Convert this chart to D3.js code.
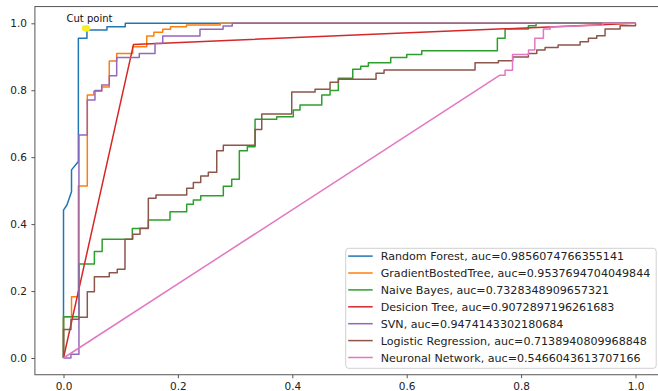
<!DOCTYPE html>
<html>
<head>
<meta charset="utf-8">
<script src="https://cdnjs.cloudflare.com/ajax/libs/d3/7.8.5/d3.min.js"></script>
<style>
  body { margin: 0; background: #fff; }
  svg { display: block; }
  text { font-family: "DejaVu Sans", sans-serif; }
</style>
</head>
<body>
<svg id="chart"></svg>
<script>
// roc points, [fpr, tpr]
var rfPoints = [[0,0],[0,0.442],[0.006,0.457],[0.014,0.497],[0.014,0.562],[0.026,0.587],[0.026,0.955],
  [0.041,0.955],[0.041,0.980],[0.076,0.980],[0.076,0.990],[0.108,0.990],[0.108,1],[1,1]];

var gbtPoints = [[0,0],[0,0.123],[0.014,0.123],[0.014,0.183],[0.026,0.183],[0.026,0.514],[0.0416,0.514],
  [0.0416,0.786],[0.053,0.786],[0.053,0.797],[0.067,0.797],[0.067,0.810],[0.080,0.810],[0.080,0.887],
  [0.093,0.887],[0.093,0.910],[0.121,0.910],[0.121,0.930],[0.1455,0.930],[0.1455,0.962],[0.158,0.962],
  [0.158,0.973],[0.1735,0.973],[0.1735,0.982],[0.187,0.982],[0.187,0.990],[0.215,0.990],[0.215,0.995],
  [0.274,0.995],[0.274,1],[1,1]];

var nbPoints = [[0,0],[0,0.123],[0.027,0.123],[0.027,0.281],[0.054,0.281],[0.054,0.318],[0.0676,0.318],
  [0.0676,0.355],[0.1203,0.355],[0.1203,0.387],[0.1483,0.387],[0.1483,0.412],[0.1862,0.412],[0.1862,0.437],
  [0.2154,0.437],[0.2154,0.459],[0.227,0.459],[0.227,0.472],[0.2399,0.472],[0.2399,0.485],[0.2794,0.485],
  [0.2794,0.513],[0.2941,0.513],[0.2941,0.534],[0.3074,0.534],[0.3074,0.619],[0.3214,0.619],[0.3214,0.631],
  [0.3349,0.631],[0.3349,0.713],[0.3728,0.713],[0.3728,0.721],[0.4018,0.721],[0.4018,0.741],[0.4135,0.741],
  [0.4135,0.756],[0.4515,0.756],[0.4515,0.786],[0.466,0.786],[0.466,0.799],[0.4805,0.799],[0.4805,0.836],
  [0.5057,0.836],[0.5057,0.863],[0.5197,0.863],[0.5197,0.872],[0.533,0.872],[0.533,0.882],[0.5721,0.882],
  [0.5721,0.898],[0.6001,0.898],[0.6001,0.907],[0.6263,0.907],[0.6263,0.918],[0.7585,0.918],[0.7585,0.955],
  [0.772,0.955],[0.772,0.983],[0.8127,0.983],[0.8127,0.993],[0.8262,0.993],[0.8262,1],[1,1]];

var dtPoints = [[0,0],[0.1224,0.937],[1,1]];

var svnPoints = [[0,0],[0.013,0],[0.013,0.011],[0.027,0.011],[0.027,0.666],[0.0416,0.666],[0.0416,0.771],
  [0.055,0.771],[0.055,0.799],[0.0668,0.799],[0.0668,0.816],[0.0801,0.816],[0.0801,0.843],[0.093,0.843],
  [0.093,0.898],[0.1325,0.898],[0.1325,0.910],[0.160,0.910],[0.160,0.940],[0.1735,0.940],[0.1735,0.962],
  [0.2386,0.962],[0.2386,0.982],[0.279,0.982],[0.279,0.992],[0.295,0.992],[0.295,1],[1,1]];

var lrPoints = [[0,0],[0,0.085],[0.013,0.085],[0.013,0.116],[0.027,0.116],[0.027,0.122],[0.0416,0.122],
  [0.0416,0.198],[0.054,0.198],[0.054,0.243],[0.080,0.243],[0.080,0.255],[0.094,0.255],[0.094,0.265],
  [0.1075,0.265],[0.1075,0.355],[0.121,0.355],[0.121,0.370],[0.1338,0.370],[0.1338,0.3875],[0.1483,0.3875],
  [0.1483,0.477],[0.1617,0.477],[0.1617,0.487],[0.2154,0.487],[0.2154,0.507],[0.227,0.507],[0.227,0.524],
  [0.2399,0.524],[0.2399,0.544],[0.2532,0.544],[0.2532,0.555],[0.2679,0.555],[0.2679,0.619],[0.2794,0.619],
  [0.2794,0.636],[0.3349,0.636],[0.3349,0.683],[0.3466,0.683],[0.3466,0.729],[0.399,0.729],[0.399,0.795],
  [0.4398,0.795],[0.4398,0.803],[0.466,0.803],[0.466,0.824],[0.4805,0.824],[0.4805,0.833],[0.5464,0.833],
  [0.5464,0.8506],[0.5604,0.8506],[0.5604,0.8605],[0.7195,0.8605],[0.7195,0.882],[0.7603,0.882],[0.7603,0.888],
  [0.7854,0.888],[0.7854,0.899],[0.8127,0.899],[0.8127,0.910],[0.8274,0.910],[0.8274,0.920],[0.8419,0.920],
  [0.8419,0.928],[0.8647,0.928],[0.8647,0.935],[0.9031,0.935],[0.9031,0.945],[0.9177,0.945],[0.9177,0.955],
  [0.9323,0.955],[0.9323,0.963],[0.9468,0.963],[0.9468,0.983],[0.9731,0.983],[0.9731,0.993],[1,0.993],[1,1]];

var nnPoints = [[0,0],[0.763,0.845],[0.772,0.845],[0.772,0.860],[0.785,0.860],[0.785,0.907],[0.813,0.907],
  [0.813,0.920],[0.824,0.920],[0.824,0.955],[0.839,0.955],[0.839,0.983],[0.851,0.983],[0.851,0.989],
  [0.943,0.995],[0.943,1],[1,1]];

var seriesNames = ["Random Forest, auc=0.9856074766355141",
  "GradientBostedTree, auc=0.9537694704049844",
  "Naive Bayes, auc=0.7328348909657321",
  "Desicion Tree, auc=0.9072897196261683",
  "SVN, auc=0.9474143302180684",
  "Logistic Regression, auc=0.7138940809968848",
  "Neuronal Network, auc=0.5466043613707166"];
var seriesColors = ["#1f77b4","#ff7f0e","#2ca02c","#d62728","#9467bd","#8c564b","#e377c2"];
var seriesPoints = [rfPoints, gbtPoints, nbPoints, dtPoints, svnPoints, lrPoints, nnPoints];

var cutPoint = [0.0394, 0.985];
var cutLabel = "Cut point";
var tickValues = [0, 0.2, 0.4, 0.6, 0.8, 1.0];

var w = 658, h = 391;

var svg = d3.select("#chart")
    .attr("width", w)
    .attr("height", h);

var x = d3.scaleLinear().domain([0, 1]).range([63.5, 635.5]);
var y = d3.scaleLinear().domain([0, 1]).range([358, 23.3]);

// matplotlib style 5% margins around the data
var frameLeft = x(-0.05), frameRight = x(1.05), frameTop = y(1.05), frameBottom = y(-0.05);

// axes
var xAxis = d3.axisBottom(x).tickValues(tickValues).tickFormat(d3.format(".1f"))
    .tickSize(3.5).tickPadding(4).tickSizeOuter(0);
var yAxis = d3.axisLeft(y).tickValues(tickValues).tickFormat(d3.format(".1f"))
    .tickSize(3.5).tickPadding(4.5).tickSizeOuter(0);

var gx = svg.append("g").attr("transform", "translate(0," + frameBottom + ")").call(xAxis);
var gy = svg.append("g").attr("transform", "translate(" + frameLeft + ",0)").call(yAxis);
[gx, gy].forEach(function(g){
    g.select(".domain").remove();
    g.selectAll("line").attr("stroke", "#555").attr("stroke-width", 1);
    g.selectAll("text").attr("fill", "#222").style("font-size", "10.5px")
        .style("font-family", "'DejaVu Sans', sans-serif");
});

svg.append("clipPath").attr("id", "plotclip")
  .append("rect")
    .attr("x", frameLeft).attr("y", frameTop)
    .attr("width", frameRight - frameLeft).attr("height", frameBottom - frameTop);

var plot = svg.append("g").attr("clip-path", "url(#plotclip)");

var line = d3.line()
    .x(function(d){ return x(d[0]); })
    .y(function(d){ return y(d[1]); });

plot.selectAll("path.roc")
    .data(seriesPoints)
    .enter()
    .append("path")
    .attr("class", "roc")
    .attr("d", line)
    .attr("fill", "none")
    .attr("stroke", function(d, i){ return seriesColors[i]; })
    .attr("stroke-width", 1.5)
    .attr("stroke-linejoin", "round");

// cut point marker + label
plot.append("ellipse")
    .attr("cx", x(cutPoint[0]))
    .attr("cy", y(cutPoint[1]))
    .attr("rx", 4.3).attr("ry", 3.4)
    .attr("fill", "#f7ef1c");

svg.append("text")
    .attr("x", x(cutPoint[0]) - 19.5)
    .attr("y", y(cutPoint[1]) - 6)
    .attr("fill", "#111")
    .style("font-size", "10px")
    .text(cutLabel);

// frame
svg.append("rect")
    .attr("x", frameLeft).attr("y", frameTop)
    .attr("width", frameRight - frameLeft).attr("height", frameBottom - frameTop)
    .attr("fill", "none")
    .attr("stroke", "#555")
    .attr("stroke-width", 1);

// legend
var lg = svg.append("g").attr("transform", "translate(345.7,248.3)");
lg.append("rect")
    .attr("width", 310.5).attr("height", 120)
    .attr("rx", 3)
    .attr("fill", "#fff").attr("fill-opacity", 0.8)
    .attr("stroke", "#d0d0d0").attr("stroke-width", 1);

var rows = lg.selectAll("g.row")
    .data(seriesNames)
    .enter()
    .append("g")
    .attr("class", "row")
    .attr("transform", function(d, i){ return "translate(0," + (7.8 + i * 16.9) + ")"; });

rows.append("line")
    .attr("x1", 2.5).attr("x2", 27)
    .attr("stroke", function(d, i){ return seriesColors[i]; })
    .attr("stroke-width", 1.5);

rows.append("text")
    .attr("x", 35)
    .attr("dy", "0.36em")
    .attr("fill", "#222")
    .style("font-size", "11.1px")
    .text(function(d){ return d; });
</script>
</body>
</html>
